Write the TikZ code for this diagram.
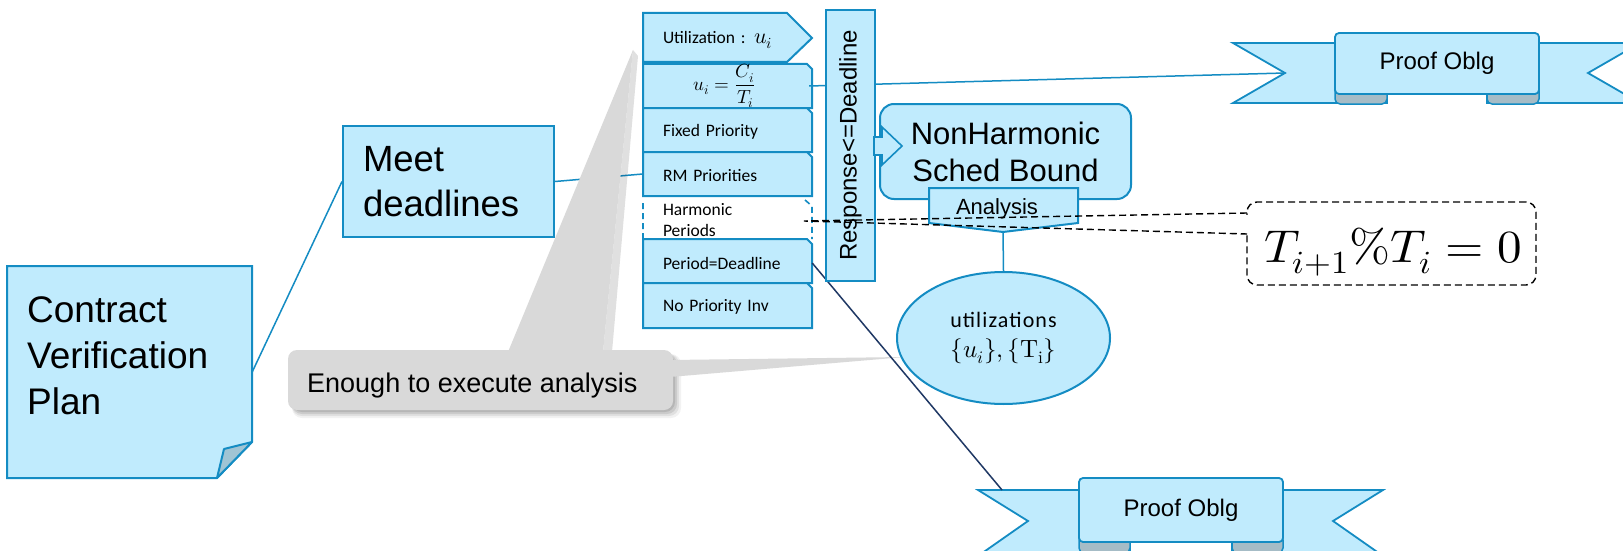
\documentclass[tikz,border=0pt]{standalone}
\usepackage{fontspec}
\usepackage{unicode-math}
\setmainfont{Liberation Sans}
\newfontfamily\calib{Carlito}
\newfontfamily\calibwide[LetterSpace=5]{Carlito}
\usetikzlibrary{shapes.geometric}

\definecolor{fillb}{RGB}{192,235,253}
\definecolor{edge}{RGB}{20,140,195}
\definecolor{navy}{RGB}{31,56,100}
\definecolor{foldc}{RGB}{160,196,212}
\definecolor{curlc}{RGB}{166,188,198}
\definecolor{calloutg}{RGB}{217,217,217}

\tikzset{
  bx/.style={draw=edge, fill=fillb, line width=2pt},
  link/.style={draw=edge, line width=1.5pt},
  tagbase/.style={minimum width=169pt, minimum height=44pt, inner sep=0pt,
    font=\calib\fontsize{17.5}{21}\selectfont},
  tagtxt/.style={tagbase, text width=129pt, inner xsep=20pt, align=left},
  curl/.style={draw=edge, fill=curlc, line width=1.5pt, rounded corners=5pt},
  ribbon/.style={draw=edge, fill=fillb, line width=1.8pt},
  hint/.style={draw=black, line width=1.4pt, dash pattern=on 7pt off 4pt},
}
% tab with a clipped upper right corner, between two y values
\newcommand\tagshape[2]{\path[bx] (643,#1) -- (807,#1) -- (812,{#1+5}) -- (812,#2) -- (643,#2) -- cycle;}
\newcommand\bigmath[2]{{\fontsize{#1}{#1}\selectfont$#2$}}

\begin{document}
\begin{tikzpicture}[x=1pt,y=-1pt]
\useasboundingbox (0,0) rectangle (1623,551);
\fill[white] (0,0) rectangle (1623,551);

% ---------- boxes that carry connector ends ----------
\node[bx, minimum width=211pt, minimum height=111pt, text width=171pt, inner xsep=20pt,
      align=left, font=\fontsize{36.5}{45}\selectfont] (meet) at (448.5,181.5) {Meet\\deadlines};
\node[minimum width=245pt, minimum height=212pt, inner sep=0pt] (cvp) at (129.5,372) {};
\node[tagbase] (rmframe) at (727.5,174) {};

\draw[link] (meet.east) -- (rmframe.west);

% ---------- grey note with its two pointers ----------
\foreach \d/\o in {8/0.05,6/0.07,4/0.09,2/0.1}
  \fill[black, opacity=\o, rounded corners=10pt] (292,354) rectangle ({673+\d},{410+\d});
\fill[black, opacity=0.12] (633,50) -- (603,352) -- (612,352) -- (638,56) -- cycle;
\fill[calloutg] (633,50) -- (508,352) -- (603,352) -- cycle;
\fill[calloutg] (670,360) -- (905,357) -- (670,377) -- cycle;
\fill[calloutg, rounded corners=9pt] (288,350) rectangle (673,410);
\node[anchor=base west, inner sep=0pt, font=\fontsize{27}{32}\selectfont] (note) at (307,392) {Enough to execute analysis};

% ---------- contract plan ----------
\path[bx] (7,266) -- (252,266) -- (252,442) -- (217,478) -- (7,478) -- cycle;
\path[draw=edge, fill=foldc, line width=2pt, line join=round] (252,442) -- (224,449) -- (217,478) -- cycle;
\node[anchor=base west, inner sep=0pt, font=\fontsize{37}{46}\selectfont] (cvptext) at (27,322)
  {\begin{tabular}[t]{@{}l@{}}Contract\\Verification\\Plan\end{tabular}};
\draw[link] (cvp.east) -- (meet.west);

% ---------- proof obligation banners ----------
% upper banner
\path[ribbon] (1233,43) -- (1387,43) -- (1387,103) -- (1233,103) -- (1285,73) -- cycle;
\path[ribbon] (1487,43) -- (1640,43) -- (1588,73) -- (1640,103) -- (1487,103) -- cycle;
\path[curl] (1335,86) rectangle (1387,104);
\path[curl] (1487,86) rectangle (1539,104);
\node[ribbon, rounded corners=4pt, minimum width=204pt, minimum height=61pt, inner sep=0pt,
      font=\fontsize{24}{28}\selectfont] (po1) at (1437,63.5) {Proof Oblg};
\coordinate (po1notch) at (1285,73);
% lower banner
\path[ribbon] (978,490) -- (1130,490) -- (1130,556) -- (978,556) -- (1028,521) -- cycle;
\path[ribbon] (1232,490) -- (1383,490) -- (1333,521) -- (1383,556) -- (1232,556) -- cycle;
\path[curl] (1079,535) rectangle (1130,553);
\path[curl] (1232,535) rectangle (1283,553);
\node[ribbon, rounded corners=4pt, minimum width=204pt, minimum height=64pt, inner sep=0pt,
      font=\fontsize{24}{28}\selectfont] (po2) at (1181,510) {Proof Oblg};
\coordinate (po2a) at (1002,490);

% ---------- stack of property tabs ----------
\path[bx] (643,13) -- (787,13) -- (812,38) -- (787,62) -- (643,62) -- cycle;
\node[tagtxt] (utl) at (727.5,40) {Utilization : \bigmath{22}{u_i}};
\tagshape{64}{108}
\node[tagbase] (ui) at (724.5,86) {\bigmath{19}{u_i=\displaystyle\frac{C_i}{T_i}}};
\tagshape{108}{152}
\node[tagtxt] (fp) at (727.5,132) {Fixed Priority};
\tagshape{152}{196}
\node[tagtxt] (rm) at (727.5,176) {RM Priorities};
\path[draw=edge, fill=white, line width=1.6pt, dash pattern=on 6pt off 4pt]
  (643,239) -- (643,200) (805,200) -- (812,206) -- (812,239);
\node[tagtxt] (hp) at (727.5,220) {Harmonic\\Periods};
\tagshape{239}{283}
\node[tagtxt] (pd) at (727.5,263) {Period=Deadline};
\tagshape{283}{328}
\node[tagtxt] (npi) at (727.5,307) {No Priority Inv};

\draw[link] (ui.east) -- (po1notch);
\draw[navy, line width=1.5pt] (pd.east) -- (po2a);

% ---------- response bound and analysis ----------
\node[bx, rotate=90, minimum width=271pt, minimum height=49pt, inner sep=0pt,
      font=\fontsize{24}{28}\selectfont] (resp) at (850.5,145.5) {Response<=Deadline};
\node[bx, rounded corners=14pt, minimum width=251pt, minimum height=95pt, inner sep=0pt,
      align=center, font=\fontsize{31}{37}\selectfont] (nh) at (1005.5,151.5) {NonHarmonic\\Sched Bound};
\path[bx, line width=1.6pt] (874,137) -- (882,137) -- (882,127) -- (902,146) -- (882,165) -- (882,155) -- (874,155) -- cycle;
\path[bx] (929,188) -- (1078,188) -- (1078,223) -- (1003,232) -- (929,223) -- cycle;
\node[anchor=base, inner sep=0pt, font=\fontsize{22}{26}\selectfont] (ana) at (997,214) {Analysis};
\coordinate (anatip) at (1003,232);
\node[bx, ellipse, minimum width=213pt, minimum height=132pt, inner sep=0pt, align=center,
      font=\calibwide\fontsize{22}{30}\selectfont] (uset) at (1003.5,338)
      {utilizations\\\bigmath{25}{\{u_i\},\{\symup{T}_{\symup{i}}\}}};
\draw[link] (anatip) -- (uset.north);

% ---------- harmonic condition note ----------
\node[hint, fill=white, rounded corners=10pt, minimum width=289pt, minimum height=83pt, inner sep=0pt]
  (hcond) at (1391.5,243.5) {};
\node[anchor=base, inner sep=0pt, font=\fontsize{46}{50}\selectfont] (hformula) at (1393,262)
  {\scalebox{1.07}[1]{$T_{i+1}\%T_i=0$}};
\draw[white, line width=3pt] (1247,215) -- (1247,232);
\coordinate (hptip) at (804,221);
\coordinate (hcu) at (1247,213);
\coordinate (hcl) at (1247,234);
\draw[hint] (hcu) -- (hptip) -- (hcl);
\end{tikzpicture}
\end{document}
